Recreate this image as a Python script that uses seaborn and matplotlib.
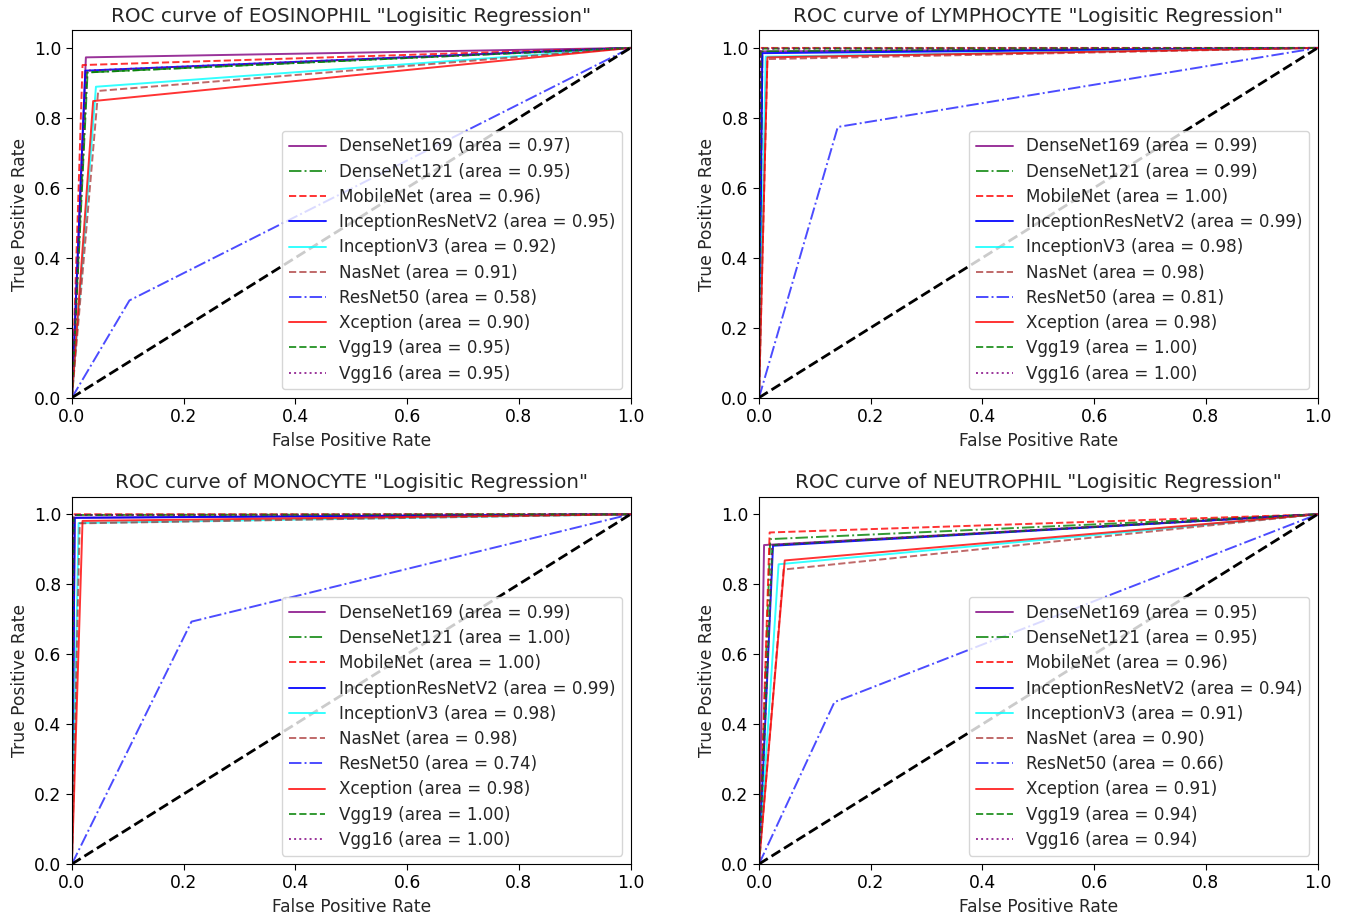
import matplotlib
matplotlib.use("Agg")
import matplotlib.pyplot as plt
import seaborn as sns

# cell classes shown in the four panels
cells = ["EOSINOPHIL", "LYMPHOCYTE", "MONOCYTE", "NEUTROPHIL"]

models = ["DenseNet169", "DenseNet121", "MobileNet", "InceptionResNetV2", "InceptionV3",
          "NasNet", "ResNet50", "Xception", "Vgg19", "Vgg16"]

# single operating point (fpr, tpr) of each model
fpr_eos = [0.025, 0.028, 0.019, 0.024, 0.043, 0.047, 0.103, 0.038, 0.027, 0.026]
tpr_eos = [0.973, 0.930, 0.951, 0.935, 0.889, 0.877, 0.278, 0.848, 0.930, 0.935]
auc_eos = [0.97, 0.95, 0.96, 0.95, 0.92, 0.91, 0.58, 0.90, 0.95, 0.95]

fpr_lym = [0.005, 0.006, 0.002, 0.006, 0.012, 0.015, 0.141, 0.015, 0.003, 0.003]
tpr_lym = [0.990, 0.990, 1.000, 0.985, 0.975, 0.968, 0.774, 0.973, 0.998, 0.998]
auc_lym = [0.99, 0.99, 1.00, 0.99, 0.98, 0.98, 0.81, 0.98, 1.00, 1.00]

fpr_mon = [0.005, 0.003, 0.002, 0.005, 0.012, 0.014, 0.214, 0.019, 0.003, 0.003]
tpr_mon = [0.990, 0.998, 1.000, 0.990, 0.975, 0.974, 0.693, 0.981, 0.998, 0.998]
auc_mon = [0.99, 1.00, 1.00, 0.99, 0.98, 0.98, 0.74, 0.98, 1.00, 1.00]

fpr_neu = [0.009, 0.020, 0.019, 0.025, 0.035, 0.044, 0.135, 0.046, 0.024, 0.024]
tpr_neu = [0.912, 0.929, 0.948, 0.910, 0.857, 0.842, 0.463, 0.868, 0.912, 0.912]
auc_neu = [0.95, 0.95, 0.96, 0.94, 0.91, 0.90, 0.66, 0.91, 0.94, 0.94]

fprs = [fpr_eos, fpr_lym, fpr_mon, fpr_neu]
tprs = [tpr_eos, tpr_lym, tpr_mon, tpr_neu]
aucs = [auc_eos, auc_lym, auc_mon, auc_neu]

colors = ["purple", "green", "red", "blue", "cyan", "brown", "blue", "red", "green", "purple"]
styles = ["-", "-.", "--", "-", "-", "--", "-.", "-", "--", ":"]
alphas = [0.8, 0.8, 0.8, 0.9, 0.8, 0.7, 0.7, 0.8, 0.8, 0.8]

sns.set_style("ticks")
plt.rcParams["font.family"] = ["DejaVu Sans"]
plt.rcParams["font.size"] = 12

fig, axes = plt.subplots(2, 2, figsize=(13.57, 9.22), dpi=100)
plt.subplots_adjust(left=0.053, right=0.971, bottom=0.0629, top=0.967, wspace=0.23, hspace=0.27)

for ax, cell, fpr, tpr, auc in zip(axes.flat, cells, fprs, tprs, aucs):
    for i, m in enumerate(models):
        sns.lineplot(x=[0, fpr[i], 1], y=[0, tpr[i], 1], ax=ax, sort=False, estimator=None,
                     color=colors[i], linestyle=styles[i], alpha=alphas[i], lw=1.4,
                     label=f"{m} (area = {auc[i]:.2f})")
    ax.plot([0, 1], [0, 1], "k--", lw=2)
    ax.set_xlim(0, 1.0)
    ax.set_ylim(0, 1.05)
    ax.set_xlabel("False Positive Rate", fontsize=12.3)
    ax.set_ylabel("True Positive Rate", fontsize=12.3)
    ax.set_title(f'ROC curve of {cell} "Logisitic Regression"', fontsize=14.3)
    ax.tick_params(labelsize=12.3, direction="out", length=4, colors="black")
    for sp in ax.spines.values():
        sp.set_visible(True)
        sp.set_color("black")
    ax.legend(loc="lower right", fontsize=12.1, handlelength=2.2, labelspacing=0.43)

fig.savefig("out.png", dpi=100)
